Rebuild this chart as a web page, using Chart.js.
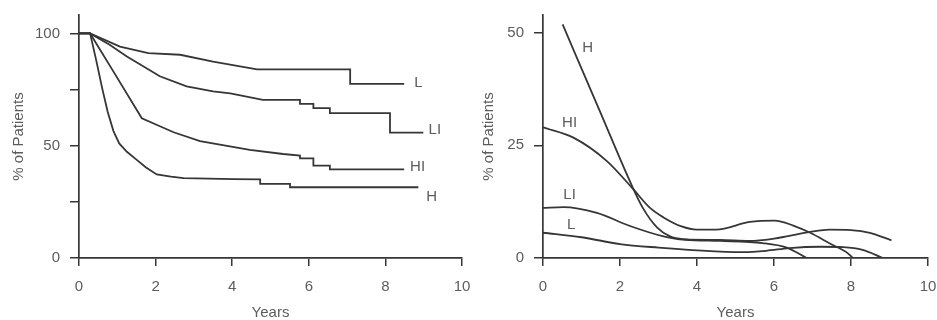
<!DOCTYPE html>
<html>
<head>
<meta charset="utf-8">
<script src="https://cdn.jsdelivr.net/npm/chart.js@4/dist/chart.umd.min.js"></script>
<style>
  body { margin: 0; background: #fff; }
  canvas { position: absolute; top: 0; }
</style>
</head>
<body>
<canvas id="survival" width="470" height="320" style="left:0"></canvas>
<canvas id="rate" width="467" height="320" style="left:470px"></canvas>
<script>
// axis ticks
const xTicks = [0, 2, 4, 6, 8, 10];
const survTicks = [0, 25, 50, 75, 100];
const survTickLabels = [0, 50, 100];
const rateTicks = [0, 25, 50];

// survival curves, % of patients by years
const survYearsL = [0, 0.29, 1.07, 1.81, 2.64, 3.5, 4.65, 7.08, 7.08, 8.49];
const survPctL = [100, 100, 94.1, 91.2, 90.5, 87.4, 84, 84, 77.5, 77.5];
const survYearsLI = [0, 0.29, 0.8, 1.24, 2.11, 2.81, 3.5, 3.95, 4.8, 5.77, 5.77, 6.12, 6.12, 6.55, 6.55, 8.12, 8.12, 8.99];
const survPctLI = [100, 100, 95, 89.8, 80.9, 76.4, 74.2, 73.3, 70.4, 70.4, 68.6, 68.6, 66.7, 66.7, 64.5, 64.5, 55.8, 55.8];
const survYearsHI = [0, 0.29, 0.9, 1.64, 2.47, 3.16, 4.46, 5.33, 5.77, 5.77, 6.12, 6.12, 6.55, 6.55, 8.49];
const survPctHI = [100, 100, 83, 62.2, 56, 52, 48.1, 46.3, 45.6, 44.4, 44.4, 41.1, 41.1, 39.5, 39.5];
const survYearsH = [0, 0.29, 0.45, 0.6, 0.75, 0.9, 1.05, 1.25, 1.5, 1.75, 2.03, 2.4, 2.73, 4.03, 4.73, 4.73, 5.51, 5.51, 8.86];
const survPctH = [100, 100, 88, 76, 65, 56.5, 51, 47.3, 43.8, 40.3, 37.2, 36.2, 35.6, 35.1, 35, 33, 33, 31.5, 31.5];

// smoothed rates, % of patients by years
const rateYearsH = [0.51, 1.49, 2.3, 2.6, 2.96, 3.3, 3.7, 4.6, 5.7, 6.33, 6.85];
const ratePctH = [51.8, 32.3, 16.2, 11, 6.8, 4.8, 4.1, 3.8, 3.3, 2.3, 0];
const rateYearsHI = [0, 0.79, 1.66, 2.35, 2.78, 3.13, 3.6, 4, 4.5, 5.37, 6.02, 6.5, 6.94, 7.5, 7.88, 8.05];
const ratePctHI = [29, 26.7, 21.5, 15.2, 11.1, 9, 7, 6.3, 6.3, 8, 8.3, 7.2, 5.6, 3, 1.3, 0];
const rateYearsLI = [0, 0.53, 1.4, 2.26, 3.13, 3.65, 4.6, 5.37, 6, 6.33, 6.94, 7.45, 8, 8.49, 9.05];
const ratePctLI = [11.1, 11.3, 10, 7.1, 4.8, 4.1, 4, 3.8, 4.3, 4.8, 5.8, 6.3, 6.2, 5.6, 3.9];
const rateYearsL = [0, 1, 2, 3, 4, 5.2, 5.8, 6.4, 7.2, 7.8, 8.3, 8.83];
const ratePctL = [5.6, 4.6, 3.1, 2.3, 1.7, 1.3, 1.6, 2.2, 2.5, 2.4, 1.8, 0];

const groupNames = ["L", "LI", "HI", "H"];

const ink = "#363636";
const textColor = "#5c5c5c";
const fontFamily = '"Liberation Sans", Arial, Helvetica, sans-serif';

function toPoints(xs, ys) {
  return xs.map((x, i) => ({ x: x, y: ys[i] }));
}

function series(xs, ys, smooth) {
  return {
    data: toPoints(xs, ys),
    borderColor: ink,
    borderWidth: 1.8,
    pointRadius: 0,
    fill: false,
    tension: 0,
    cubicInterpolationMode: smooth ? "monotone" : "default"
  };
}

// group names written next to each curve
const curveLabels = {
  id: "curveLabels",
  afterDatasetsDraw(chart, args, opts) {
    const ctx = chart.ctx;
    const xs = chart.scales.x;
    const ys = chart.scales.y;
    ctx.save();
    ctx.font = "15px " + fontFamily;
    ctx.fillStyle = textColor;
    ctx.textAlign = "center";
    ctx.textBaseline = "middle";
    opts.names.forEach((n, i) => {
      ctx.fillText(n, xs.getPixelForValue(opts.at[i][0]), ys.getPixelForValue(opts.at[i][1]));
    });
    ctx.restore();
  }
};

// fixed axis boxes, the outer layout padding keeps the labels in view
function noOverflow(s) {
  s.paddingLeft = 0;
  s.paddingRight = 0;
  s.paddingTop = 0;
  s.paddingBottom = 0;
}

function scales(yMax, yTicks, yShown, yWidth) {
  return {
    x: {
      type: "linear",
      min: 0,
      max: 10,
      afterBuildTicks: (s) => { s.ticks = xTicks.map((v) => ({ value: v })); },
      afterFit: (s) => { s.height = 62; noOverflow(s); },
      border: { color: ink, width: 1.7 },
      grid: { drawOnChartArea: false, drawTicks: true, tickLength: 8, color: ink, lineWidth: 1.5 },
      ticks: { color: textColor, font: { size: 15, family: fontFamily }, padding: 12, maxRotation: 0 },
      title: {
        display: true,
        text: "Years",
        color: textColor,
        font: { size: 15, family: fontFamily, lineHeight: 1 },
        padding: { top: 0, bottom: 0 }
      }
    },
    y: {
      type: "linear",
      min: 0,
      max: yMax,
      afterBuildTicks: (s) => { s.ticks = yTicks.map((v) => ({ value: v })); },
      afterFit: (s) => { s.width = yWidth; noOverflow(s); },
      border: { color: ink, width: 1.7 },
      grid: { drawOnChartArea: false, drawTicks: true, tickLength: 9, color: ink, lineWidth: 1.5 },
      ticks: {
        color: textColor,
        font: { size: 15, family: fontFamily },
        padding: 10,
        callback: (v) => (yShown.includes(v) ? String(v) : "")
      },
      title: {
        display: true,
        text: "% of Patients",
        color: textColor,
        font: { size: 15, family: fontFamily },
        padding: { top: 10, bottom: 0 }
      }
    }
  };
}

function commonOptions(yMax, yTicks, yShown, yWidth, padRight, labelAt) {
  return {
    responsive: false,
    animation: false,
    layout: { padding: { top: 15, right: padRight, left: 0, bottom: 0 } },
    plugins: {
      legend: { display: false },
      tooltip: { enabled: false },
      curveLabels: { names: groupNames, at: labelAt }
    },
    scales: scales(yMax, yTicks, yShown, yWidth)
  };
}

new Chart(document.getElementById("survival"), {
  type: "line",
  data: {
    datasets: [
      series(survYearsL, survPctL, false),
      series(survYearsLI, survPctLI, false),
      series(survYearsHI, survPctHI, false),
      series(survYearsH, survPctH, false)
    ]
  },
  options: commonOptions(108.2, survTicks, survTickLabels, 79, 8,
    [[8.86, 78.2], [9.29, 57], [8.84, 40.7], [9.21, 27.3]]),
  plugins: [curveLabels]
});

new Chart(document.getElementById("rate"), {
  type: "line",
  data: {
    datasets: [
      series(rateYearsL, ratePctL, true),
      series(rateYearsLI, ratePctLI, true),
      series(rateYearsHI, ratePctHI, true),
      series(rateYearsH, ratePctH, true)
    ]
  },
  options: commonOptions(53.9, rateTicks, rateTicks, 73, 9,
    [[0.73, 7.4], [0.69, 14.1], [0.69, 29.9], [1.16, 46.6]]),
  plugins: [curveLabels]
});
</script>
</body>
</html>
